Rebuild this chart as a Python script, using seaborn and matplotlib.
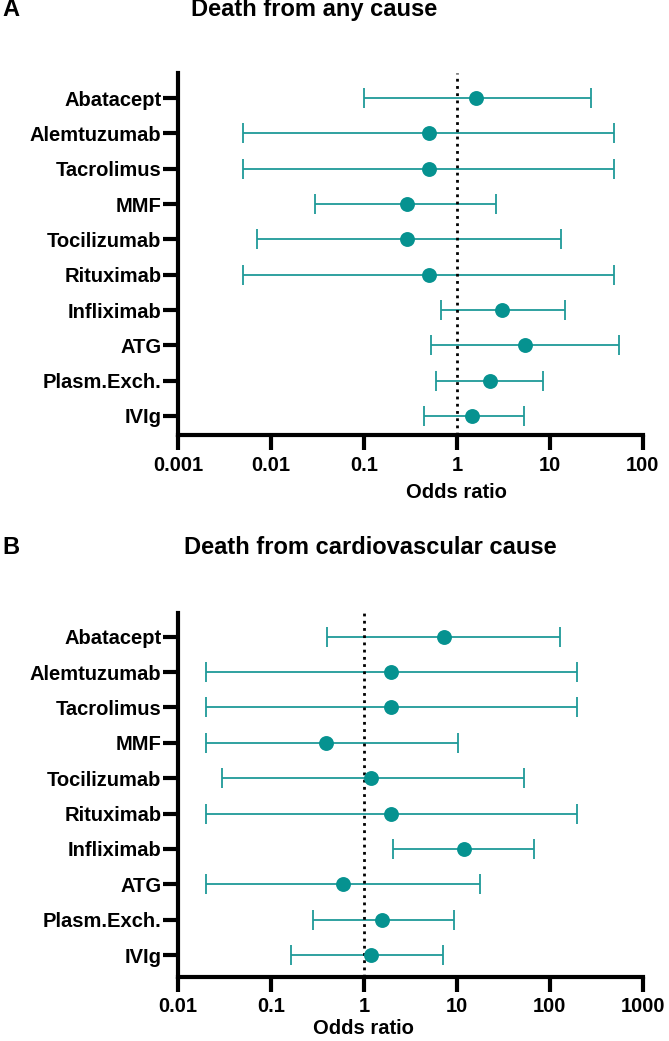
import matplotlib
matplotlib.use("Agg")
import matplotlib.pyplot as plt
import seaborn as sns
import numpy as np
import pandas as pd

drugs = ["Abatacept", "Alemtuzumab", "Tacrolimus", "MMF", "Tocilizumab",
         "Rituximab", "Infliximab", "ATG", "Plasm.Exch.", "IVIg"]

# panel A: death from any cause
or_any = [1.6, 0.5, 0.5, 0.29, 0.29, 0.5, 3.06, 5.4, 2.26, 1.47]
lo_any = [0.1, 0.005, 0.005, 0.03, 0.007, 0.005, 0.67, 0.52, 0.59, 0.44]
hi_any = [28, 49, 49, 2.65, 13, 49, 14.4, 55, 8.5, 5.2]
ticks_any = [0.001, 0.01, 0.1, 1, 10, 100]
ticklabels_any = ["0.001", "0.01", "0.1", "1", "10", "100"]

# panel B: death from cardiovascular cause
or_cv = [7.2, 1.96, 1.96, 0.39, 1.18, 1.96, 11.9, 0.59, 1.57, 1.18]
lo_cv = [0.4, 0.02, 0.02, 0.02, 0.03, 0.02, 2.06, 0.02, 0.28, 0.166]
hi_cv = [129, 197, 197, 10.2, 53, 197, 67, 17.8, 9.2, 7.1]
ticks_cv = [0.01, 0.1, 1, 10, 100, 1000]
ticklabels_cv = ["0.01", "0.1", "1", "10", "100", "1000"]

TEAL = "#069290"
TEAL_LINE = "#1f9a98"

sns.set_style("ticks", {"axes.edgecolor": "black", "text.color": "black",
                        "xtick.color": "black", "ytick.color": "black",
                        "axes.labelcolor": "black"})
plt.rcParams['font.family'] = ['Liberation Sans', 'DejaVu Sans']
plt.rcParams['font.weight'] = 'bold'


def forest(ax, odds, lo, hi, ticks, ticklabels, ylim, label_xy):
    df = pd.DataFrame({"drug": drugs, "or": odds, "lo": lo, "hi": hi})
    ypos = np.arange(len(drugs))
    ax.errorbar(df["or"], ypos,
                xerr=[df["or"] - df["lo"], df["hi"] - df["or"]],
                fmt="none", ecolor=TEAL_LINE, elinewidth=1.3, capsize=7,
                capthick=1.3, zorder=2)
    ax.axvline(1, color="black", lw=2, ls=(0, (1, 1.6)), zorder=3)
    sns.scatterplot(x=df["or"], y=ypos, ax=ax, color=TEAL, s=115,
                    edgecolor=TEAL, linewidth=0, zorder=4)
    ax.set_xscale("log")
    ax.set_xlim(ticks[0], ticks[-1])
    ax.set_ylim(*ylim)
    ax.set_yticks(ypos)
    ax.set_yticklabels(drugs)
    ax.set_xticks(ticks)
    ax.set_xticklabels(ticklabels)
    ax.minorticks_off()
    ax.set_ylabel("")
    ax.set_xlabel("Odds ratio", fontsize=14.5, fontweight="bold")
    ax.xaxis.set_label_coords(*label_xy)
    ax.xaxis.label.set_va("center")
    for s in ["top", "right"]:
        ax.spines[s].set_visible(False)
    for s in ["left", "bottom"]:
        ax.spines[s].set_linewidth(3)
    ax.tick_params(axis="both", length=11, width=3, labelsize=14.5, color="black")
    ax.tick_params(axis="y", pad=1)
    ax.tick_params(axis="x", pad=4)
    for t in ax.get_xticklabels() + ax.get_yticklabels():
        t.set_fontweight("bold")


fig = plt.figure(figsize=(6.69, 10.41), dpi=100)
ax1 = fig.add_axes([0.266, 0.5821, 0.695, 0.3477])
ax2 = fig.add_axes([0.266, 0.0618, 0.695, 0.3494])

forest(ax1, or_any, lo_any, hi_any, ticks_any, ticklabels_any,
       (9.54, -0.71), (0.6, -0.16))
forest(ax2, or_cv, lo_cv, hi_cv, ticks_cv, ticklabels_cv,
       (9.61, -0.67), (0.4, -0.143))

fig.text(0.2855, 0.9904, "Death from any cause", fontsize=17, fontweight="bold",
         ha="left", va="center")
fig.text(0.275, 0.4736, "Death from cardiovascular cause", fontsize=17,
         fontweight="bold", ha="left", va="center")
fig.text(0.003, 0.9904, "A", fontsize=17, fontweight="bold", ha="left", va="center")
fig.text(0.003, 0.4736, "B", fontsize=17, fontweight="bold", ha="left", va="center")

fig.savefig("out.png", dpi=100)
